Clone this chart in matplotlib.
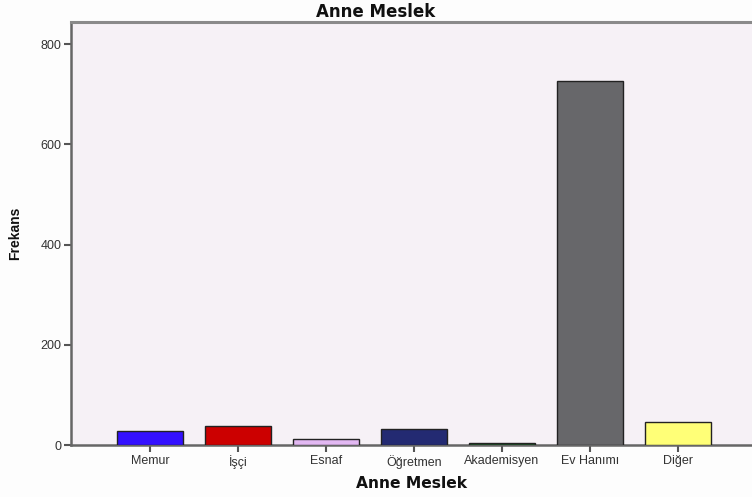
import matplotlib
matplotlib.use("Agg")
import matplotlib.pyplot as plt

categories = ["Memur", "İşçi", "Esnaf", "Öğretmen", "Akademisyen", "Ev Hanımı", "Diğer"]
frequencies = [27, 38, 11, 32, 3, 727, 46]
bar_colors = ["#3310FF", "#CC0000", "#E2B8F2", "#232A72", "#1E5A2A", "#67676A", "#FFFF77"]
y_ticks = [0, 200, 400, 600, 800]

plt.rcParams["font.family"] = ["Liberation Sans", "DejaVu Sans"]

fig = plt.figure(figsize=(7.52, 4.97), dpi=100, facecolor="#FDFDFD")
ax = fig.add_axes([71 / 752, 1 - 445 / 497, 1 - 71 / 752, (445 - 22) / 497])
ax.set_facecolor("#F6F1F6")

x = range(len(categories))
ax.bar(x, frequencies, width=0.75, color=bar_colors, edgecolor="#222222", linewidth=1.0, zorder=3)

ax.set_xlim(-0.898, 6.84)
ax.set_ylim(0, 844)
ax.set_xticks(list(x))
ax.set_xticklabels(categories, fontsize=9, color="#333333")
ax.set_yticks(y_ticks)
ax.set_yticklabels([str(v) for v in y_ticks], fontsize=9, color="#333333")

for side in ("left", "bottom"):
    ax.spines[side].set_color("#666666")
    ax.spines[side].set_linewidth(1.8)
ax.spines["top"].set_color("#8A8A8A")
ax.spines["top"].set_linewidth(2.2)
ax.spines["right"].set_visible(False)

ax.tick_params(axis="both", direction="out", length=5, width=1.5, color="#555555", pad=2)

ax.set_xlabel("Anne Meslek", fontsize=11.2, fontweight="bold", color="#111111",
              labelpad=5, family=["DejaVu Sans"])
ax.set_ylabel("Frekans", fontsize=10, fontweight="bold", color="#111111", labelpad=13)
fig.text(0.5, 1 - 12 / 497, "Anne Meslek", ha="center", va="center",
         fontsize=12, fontweight="bold", color="#111111", family=["DejaVu Sans"])

fig.savefig("out.png", dpi=100, facecolor=fig.get_facecolor())
